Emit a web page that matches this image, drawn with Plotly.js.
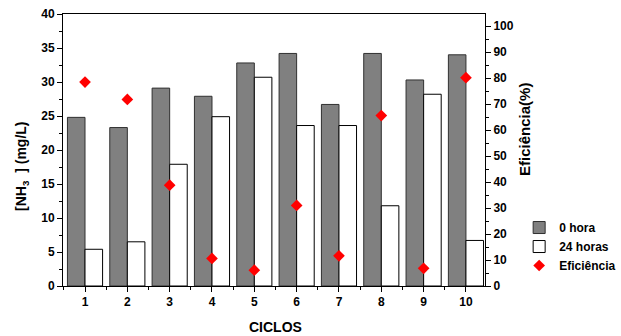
<!DOCTYPE html>
<html>
<head>
<meta charset="utf-8">
<script src="https://cdn.plot.ly/plotly-3.0.1.min.js"></script>
<style>html,body{margin:0;padding:0;background:#fff;}#chart{width:621px;height:336px;}</style>
</head>
<body>
<div id="chart"></div>
<script>
const cycles = [1, 2, 3, 4, 5, 6, 7, 8, 9, 10];
const tickLabels = ["1", "2", "3", "4", "5", "6", "7", "8", "9", "10"];
const hora0 = [24.8, 23.3, 29.1, 27.9, 32.8, 34.2, 26.7, 34.2, 30.3, 34.0];
const horas24 = [5.4, 6.5, 17.9, 24.9, 30.7, 23.6, 23.6, 11.8, 28.2, 6.7];
const eficiencia = [78.5, 71.8, 38.8, 10.6, 6.1, 31.0, 11.6, 65.6, 6.8, 80.2];

const FONT = "Liberation Sans, Arial, Helvetica, sans-serif";

const traces = [
  {type: "bar", name: "0 hora", x: cycles, y: hora0,
   marker: {color: "#808080", line: {color: "#303030", width: 1}}},
  {type: "bar", name: "24 horas", x: cycles, y: horas24,
   marker: {color: "#ffffff", line: {color: "#000000", width: 1}}},
  {type: "scatter", mode: "markers", name: "Eficiência", x: cycles, y: eficiencia, yaxis: "y2",
   marker: {symbol: "diamond", size: 9, color: "#ff0000"}}
];

const layout = {
  width: 621, height: 336,
  margin: {l: 63, r: 136, t: 14, b: 50, pad: 0, autoexpand: false},
  paper_bgcolor: "#ffffff", plot_bgcolor: "#ffffff",
  font: {family: FONT, size: 12, color: "#000", weight: "bold"},
  barmode: "group", bargap: 0.17, bargroupgap: 0,
  showlegend: true,
  legend: {xref: "container", yref: "container", x: 0.836, xanchor: "left", y: 0.366, yanchor: "top",
           font: {family: FONT, size: 12, color: "#000", weight: "bold"},
           bgcolor: "rgba(0,0,0,0)", tracegroupgap: 0, itemwidth: 30},
  xaxis: {range: [0.48, 10.45], tickmode: "array", tickvals: cycles, ticktext: tickLabels,
          ticks: "outside", ticklen: 5, tickwidth: 1, tickcolor: "#000",
          minor: {ticks: "outside", ticklen: 3, tickcolor: "#000", tick0: 0.5, dtick: 1},
          showline: true, linecolor: "#000", linewidth: 1, mirror: true,
          showgrid: false, zeroline: false,
          tickfont: {family: FONT, size: 12, color: "#000", weight: "bold"}},
  yaxis: {range: [0, 40], tick0: 0, dtick: 5,
          ticks: "outside", ticklen: 5, tickwidth: 1, tickcolor: "#000",
          minor: {ticks: "outside", ticklen: 3, tickcolor: "#000", tick0: 0, dtick: 2.5},
          showline: true, linecolor: "#000", linewidth: 1,
          showgrid: false, zeroline: false,
          tickfont: {family: FONT, size: 12, color: "#000", weight: "bold"}},
  yaxis2: {range: [0, 104.7], tick0: 0, dtick: 10, overlaying: "y", side: "right", anchor: "x",
           ticks: "outside", ticklen: 5, tickwidth: 1, tickcolor: "#000",
           minor: {ticks: "outside", ticklen: 3, tickcolor: "#000", tick0: 0, dtick: 5},
           showline: true, linecolor: "#000", linewidth: 1,
           showgrid: false, zeroline: false,
           tickfont: {family: FONT, size: 12, color: "#000", weight: "bold"}},
  annotations: [
    {text: "CICLOS", xref: "paper", yref: "paper", x: 0.504, y: -0.152, showarrow: false,
     xanchor: "center", yanchor: "middle", font: {family: FONT, size: 14, color: "#000", weight: "bold"}},
    {text: "[NH<sub>3</sub>\u00a0\u00a0] (mg/L)", xref: "paper", yref: "paper", x: -0.097, y: 0.438,
     textangle: -90, showarrow: false, xanchor: "center", yanchor: "middle",
     font: {family: FONT, size: 14, color: "#000", weight: "bold"}},
    {text: "Eficiência(%)", xref: "paper", yref: "paper", x: 1.095, y: 0.574,
     textangle: -90, showarrow: false, xanchor: "center", yanchor: "middle",
     font: {family: FONT, size: 15, color: "#000", weight: "bold"}}
  ]
};

Plotly.newPlot("chart", traces, layout, {staticPlot: true, displayModeBar: false});
</script>
</body>
</html>
